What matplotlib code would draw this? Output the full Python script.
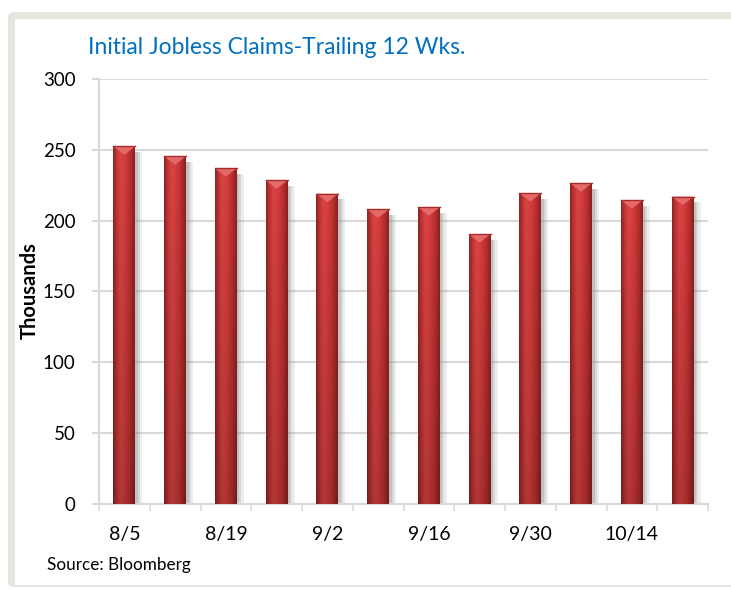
import numpy as np
import matplotlib
matplotlib.use('Agg')
import matplotlib.pyplot as plt
from matplotlib.patches import Rectangle, FancyBboxPatch, Polygon
from matplotlib.colors import to_rgb

# data
weeks = ['8/5', '8/12', '8/19', '8/26', '9/2', '9/9', '9/16', '9/23',
         '9/30', '10/7', '10/14', '10/21']
claims = [252.5, 245.5, 237, 228.5, 219, 208, 209.5, 190.5, 219.5, 226.5, 214.5, 217]
yticks = [0, 50, 100, 150, 200, 250, 300]

plt.rcParams['font.family'] = ['Lato', 'DejaVu Sans']

fig = plt.figure(figsize=(7.31, 5.89), dpi=100)
fig.patch.set_facecolor('white')

# grey frame around the white panel
W, H = 731, 589
frame = FancyBboxPatch((8 / W, 2 / H), 760 / W, (H - 14) / H,
                       boxstyle='round,pad=0,rounding_size=0.008',
                       transform=fig.transFigure, facecolor='#e6e5e0',
                       edgecolor='none', zorder=-3)
fig.patches.append(frame)
fig.patches.append(Rectangle((15 / W, 4 / H), 1, (H - 23) / H,
                             transform=fig.transFigure, facecolor='white',
                             edgecolor='none', zorder=-2))

ax = fig.add_axes([99 / W, 1 - 504 / H, (708 - 99) / W, (504 - 79) / H])
ax.set_facecolor('none')

x = np.arange(len(claims))
width = 0.43

# soft shadows to the right of each bar
for off, a in [(0.05, 0.28), (0.09, 0.22), (0.14, 0.14)]:
    ax.bar(x + off, np.array(claims) - 4, width=width, color='#8a8a8a', alpha=a,
           linewidth=0, zorder=2)

# cylinder-ish shading: across the bar and a bit darker towards the base
across = np.array([to_rgb(c) for c in
                   ['#8f2323', '#c23434', '#d94444', '#d63e3e', '#c83636',
                    '#b02c2c', '#8a2121']])
xs = np.linspace(0, 1, len(across))
xi = np.linspace(0, 1, 64)
row = np.stack([np.interp(xi, xs, across[:, k]) for k in range(3)], axis=-1)
down = np.linspace(1.0, 0.82, 80)[:, None, None]
shade = np.clip(row[None, :, :] * down, 0, 1)

bars = ax.bar(x, claims, width=width, color='#cf3a3a', linewidth=0, zorder=3)
for b in bars:
    x0, y0 = b.get_x(), b.get_y()
    w, h = b.get_width(), b.get_height()
    im = ax.imshow(shade, aspect='auto', extent=[x0, x0 + w, y0, y0 + h],
                   origin='upper', zorder=3.5, interpolation='bilinear')
    im.set_clip_path(b)
    # lighter triangular cap at the top
    cap = 6
    ax.add_patch(Polygon([[x0, y0 + h], [x0 + w, y0 + h], [x0 + w / 2, y0 + h - cap]],
                         closed=True, facecolor='#e46a6a', edgecolor='none', zorder=4))
    ax.plot([x0, x0 + w], [y0 + h, y0 + h], color='#a82a2a', lw=1, zorder=4.5)

ax.set_xlim(-0.5, len(claims) - 0.5)
ax.set_ylim(0, 300)

ax.set_yticks(yticks)
ax.yaxis.grid(True, color='#d9d9d9', linewidth=1.5, zorder=0)
ax.set_axisbelow(True)
ax.tick_params(axis='y', length=5, width=1.5, color='#d9d9d9', labelsize=13.5,
               pad=12)

ax.set_xticks(x[::2])
ax.set_xticklabels(weeks[::2])
ax.set_xticks(np.arange(len(claims) + 1) - 0.5, minor=True)
ax.tick_params(axis='x', which='major', length=0, labelsize=14, pad=16)
ax.tick_params(axis='x', which='minor', length=5, width=1.2, color='#d9d9d9')

for s in ['top', 'right']:
    ax.spines[s].set_visible(False)
for s in ['left', 'bottom']:
    ax.spines[s].set_color('#d9d9d9')
    ax.spines[s].set_linewidth(1.5)

fig.text(30 / W, 1 - 291 / H, 'Thousands', fontsize=14.5, fontweight='bold',
         rotation=90, ha='center', va='center')
fig.text(88 / W, 1 - 47 / H, 'Initial Jobless Claims-Trailing 12 Wks.',
         color='#0070c0', fontsize=16.5, va='center', ha='left')
fig.text(47 / W, 1 - 565 / H, 'Source: Bloomberg', fontsize=12.3, va='center',
         ha='left')

plt.savefig('out.png', dpi=100)
